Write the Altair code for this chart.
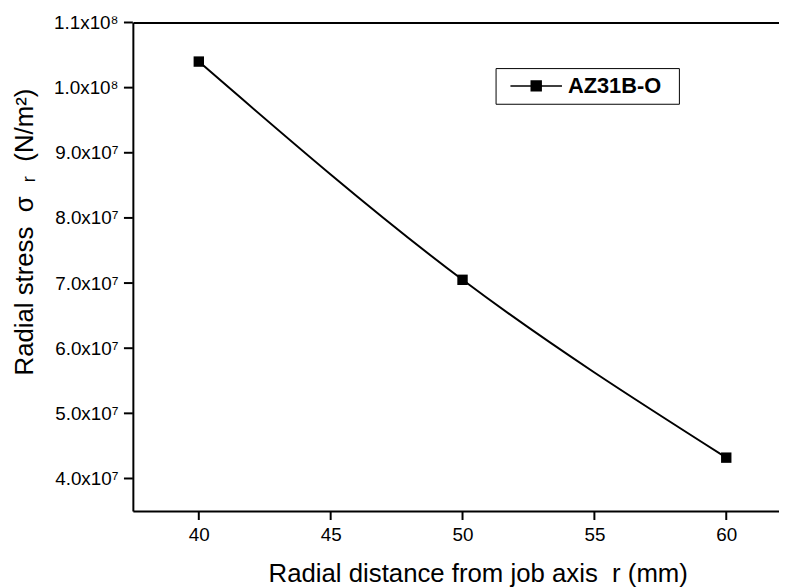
import altair as alt
import pandas as pd

# Data
radius_mm = [40, 50, 60]
radial_stress = [1.04e8, 7.05e7, 4.32e7]
series_name = ["AZ31B-O", "AZ31B-O", "AZ31B-O"]

x_ticks = [40, 45, 50, 55, 60]
x_domain = [37.5, 62]
y_domain = [3.5e7, 1.1e8]
y_tick_values = [4e7, 5e7, 6e7, 7e7, 8e7, 9e7, 1.0e8, 1.1e8]
y_tick_labels = ["4.0x10⁷", "5.0x10⁷", "6.0x10⁷", "7.0x10⁷",
                 "8.0x10⁷", "9.0x10⁷", "1.0x10⁸", "1.1x10⁸"]

NB = "\u00a0"
x_title = f"Radial distance from job axis{NB}{NB}r (mm)"
y_title = f"Radial stress{NB}{NB}σ{NB}{NB}ᵣ{NB}{NB}(N/m²)"

PLOT_W, PLOT_H, TICK = 652, 493, 9

df = pd.DataFrame({"r": radius_mm, "stress": radial_stress, "series": series_name})
xt_df = pd.DataFrame({"r": x_ticks})
yt_df = pd.DataFrame({"stress": y_tick_values})

# label expression built from the tick lists
expr = "''"
for v, lab in zip(y_tick_values, y_tick_labels):
    expr = f"round(datum.value/1e6)=={int(round(v/1e6))} ? '{lab}' : ({expr})"

FONT = "Liberation Sans"

x_enc = alt.X(
    "r:Q",
    scale=alt.Scale(domain=x_domain, nice=False, zero=False),
    axis=alt.Axis(
        values=x_ticks, title=x_title, ticks=False,
        labelPadding=TICK + 6,
        titleX=348, titleY=71, titleBaseline="alphabetic", titleAlign="center",
    ),
)
y_enc = alt.Y(
    "stress:Q",
    scale=alt.Scale(domain=y_domain, nice=False, zero=False),
    axis=alt.Axis(
        values=y_tick_values, labelExpr=expr, ticks=False,
        title=y_title,
        labelPadding=TICK + 6,
        titleY=211, titleX=-101, titleAlign="center", titleBaseline="alphabetic", titleAngle=270,
    ),
)

line = alt.Chart(df).mark_line(color="black", strokeWidth=2, interpolate="monotone").encode(
    x=x_enc, y=y_enc
)

# outward tick marks placed through the axes' scales
x_tick_marks = alt.Chart(xt_df).mark_rule(color="black", strokeWidth=2).encode(
    x=alt.X("r:Q"), y=alt.value(PLOT_H), y2=alt.value(PLOT_H + TICK)
)
y_tick_marks = alt.Chart(yt_df).mark_rule(color="black", strokeWidth=2).encode(
    y=alt.Y("stress:Q"), x=alt.value(-TICK), x2=alt.value(0)
)

legend_path = "M-3.3,0M-2.6,0H2.6M-0.5,-0.5H0.5V0.5H-0.5ZM13.4,0"

points = alt.Chart(df).mark_point(shape="square", filled=True, size=110, opacity=1).encode(
    x=alt.X("r:Q"),
    y=alt.Y("stress:Q"),
    color=alt.Color(
        "series:N",
        scale=alt.Scale(range=["black"]),
        legend=alt.Legend(
            title=None, orient="none", legendX=366, legendY=46,
            strokeColor="black", fillColor="white", padding=7,
            symbolType=legend_path, symbolSize=400, symbolOffset=23,
            symbolStrokeColor="black", symbolFillColor="black", symbolStrokeWidth=1.5,
            labelFont=FONT, labelFontSize=22, labelFontWeight="bold", labelColor="black",
            labelOffset=21, labelBaseline="middle",
        ),
    ),
)

main = alt.layer(line, x_tick_marks, y_tick_marks, points)

top_frame = alt.Chart(df).mark_point(opacity=0).encode(
    x=alt.X("r:Q", scale=alt.Scale(domain=x_domain, nice=False, zero=False),
            axis=alt.Axis(orient="top", labels=False, ticks=False, title=None)),
    y=alt.Y("stress:Q"),
)

chart = alt.layer(main, top_frame).resolve_scale(x="independent").properties(
    width=PLOT_W, height=PLOT_H,
    autosize=alt.AutoSizeParams(type="none"),
    padding={"left": 126, "top": 12, "right": 0, "bottom": 74},
    background="white",
).configure_view(stroke=None).configure_axis(
    grid=False, domainColor="black", domainWidth=2,
    labelFont=FONT, labelFontSize=19, labelColor="black",
    titleFont=FONT, titleFontSize=26, titleFontWeight="normal", titleColor="black",
)

chart.save("out.html", embed_options={"renderer": "svg", "actions": False})
